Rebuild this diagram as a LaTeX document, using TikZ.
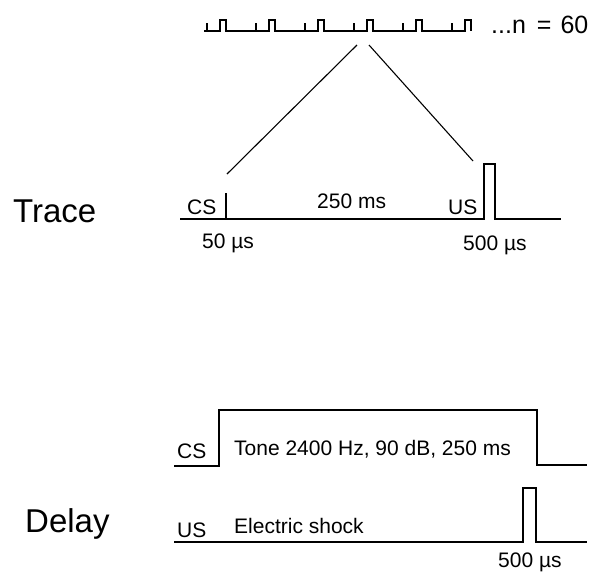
\documentclass[tikz,border=0pt]{standalone}
\usepackage{fontspec}
\setmainfont{Liberation Sans}
\begin{document}
\begin{tikzpicture}[x=1pt,y=-1pt,
  lbl/.style={inner sep=0pt,font=\fontsize{21}{21}\selectfont},
  big/.style={inner sep=0pt,font=\fontsize{33}{33}\selectfont},
  sig/.style={line width=2.3pt,line join=miter},
  train/.style={line width=1.6pt,line join=miter},
  zoomline/.style={line width=1.1pt}]
\useasboundingbox (0,0) rectangle (611,571);
% pulse train
\draw[train] (204,31)
  \foreach \t in {207,256,305,354,403,452} {
    -- (\t,31) -- (\t,23) -- (\t,31) -- (\t+13,31) -- (\t+13,20) -- (\t+19,20) -- (\t+19,31)
  };
\node[anchor=base west,inner sep=0pt,font=\fontsize{25}{25}\selectfont] (n60) at (491,33) {...n\hskip 11pt=\hskip 9pt60};
\coordinate (zl) at (357,45);
\coordinate (zr) at (369,45);
% Trace
\node[big,anchor=base west] (trace) at (13,222) {Trace};
\draw[sig] (180,219) -- (484,219) -- (484,164) -- (495,164) -- (495,219) -- (561,219);
\draw[sig] (226,193) coordinate (cstick) -- (226,219);
\coordinate (uspeak) at (473,161);
\draw[zoomline] (zl) -- (227,174);
\draw[zoomline] (zr) -- (uspeak);
\node[lbl,anchor=base west] (tcs) at (187,214) {CS};
\node[lbl,anchor=base west] (t250) at (317,208) {250 ms};
\node[lbl,anchor=base west] (tus) at (448,214) {US};
\node[lbl,anchor=base west] (t50) at (202,248) {50 µs};
\node[lbl,anchor=base west] (t500) at (463,250) {500 µs};
% Delay
\node[big,anchor=base west] (delay) at (25,532) {Delay};
\draw[sig] (174,466) -- (219,466) -- (219,410) -- (537,410) -- (537,465) -- (587,465);
\draw[sig] (174,542) -- (523,542) -- (523,488) -- (536,488) -- (536,542) -- (587,542);
\node[lbl,anchor=base west] (dcs) at (177,458) {CS};
\node[lbl,anchor=base west] (tone) at (234,455) {Tone 2400 Hz, 90 dB, 250 ms};
\node[lbl,anchor=base west] (dus) at (177,537) {US};
\node[lbl,anchor=base west] (shock) at (234,533) {Electric shock};
\node[lbl,anchor=base west] (d500) at (498,567) {500 µs};
\end{tikzpicture}
\end{document}
